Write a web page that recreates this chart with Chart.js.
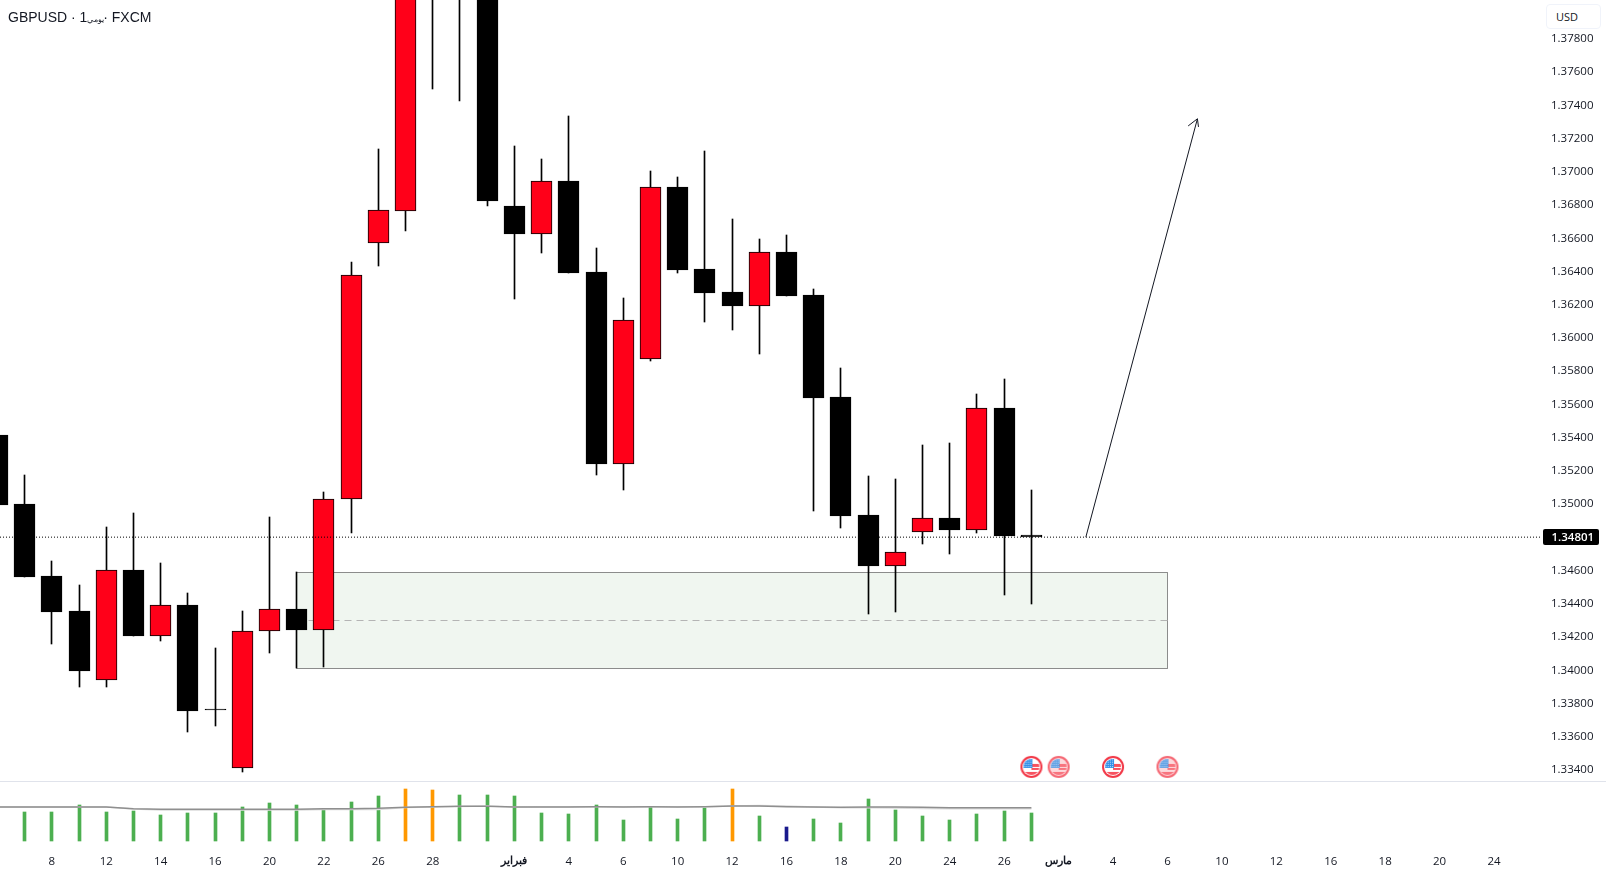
<!DOCTYPE html>
<html>
<head>
<meta charset="utf-8">
<style>
    html, body { margin: 0; padding: 0; background: #fff; overflow: hidden; }
    #wrap { position: relative; width: 1606px; height: 875px; }
    #title { position: absolute; left: 8px; top: 9px; font: 14px "Liberation Sans", sans-serif; color: #131722; white-space: pre; }
    #title span { font-size: 7.5px; margin-right: -5px; }
    #unit { position: absolute; left: 1546px; top: 4px; width: 55px; height: 25px; box-sizing: border-box; border: 1px solid #f0f3fa; border-radius: 4px; font: 11px "Open Sans", sans-serif; color: #131722; line-height: 24px; padding-left: 9px; background: #fff; }
</style>
<script src="https://cdn.jsdelivr.net/npm/chart.js@4/dist/chart.umd.min.js"></script>
</head>
<body>
<div id="wrap">
    <canvas id="chart" width="1606" height="875"></canvas>
    <div id="title">GBPUSD · 1<span>يومي</span> · FXCM</div>
    <div id="unit">USD</div>
</div>
<script>
var opens = [1.35416, 1.35001, 1.34567, 1.34357, 1.33943, 1.34603, 1.34208, 1.34393, 1.33765, 1.33413,
    1.34234, 1.34369, 1.34244, 1.35029, 1.36573, 1.36766, 1.38600, 1.38900, 1.38500, 1.36794,
    1.36627, 1.36945, 1.36397, 1.35243, 1.35875, 1.36908, 1.36415, 1.36277, 1.36192, 1.36517,
    1.36258, 1.35645, 1.34934, 1.34629, 1.34834, 1.34916, 1.34846, 1.35578, 1.34814];
var highs = [1.35520, 1.35175, 1.34658, 1.34513, 1.34862, 1.34946, 1.34646, 1.34465, 1.34134, 1.34357,
    1.34922, 1.34589, 1.35071, 1.36457, 1.37137, 1.38700, 1.38800, 1.39000, 1.38600, 1.37155,
    1.37077, 1.37336, 1.36541, 1.36240, 1.37005, 1.36969, 1.37125, 1.36716, 1.36596, 1.36620,
    1.36295, 1.35819, 1.35169, 1.35151, 1.35356, 1.35368, 1.35663, 1.35753, 1.35085];
var lows = [1.34996, 1.34563, 1.34160, 1.33901, 1.33901, 1.34208, 1.34178, 1.33630, 1.33666, 1.33389,
    1.34106, 1.34013, 1.34021, 1.34828, 1.36435, 1.36645, 1.37498, 1.37428, 1.36796, 1.36234,
    1.36511, 1.36391, 1.35175, 1.35085, 1.35861, 1.36391, 1.36096, 1.36048, 1.35903, 1.36252,
    1.34958, 1.34858, 1.34339, 1.34352, 1.34762, 1.34701, 1.34828, 1.34453, 1.34401];
var closes = [1.34996, 1.34563, 1.34352, 1.33997, 1.34602, 1.34208, 1.34391, 1.33757, 1.33763, 1.34236,
    1.34367, 1.34244, 1.35029, 1.36377, 1.36768, 1.38500, 1.38400, 1.38500, 1.36826, 1.36626,
    1.36945, 1.36391, 1.35241, 1.36108, 1.36908, 1.36409, 1.36271, 1.36192, 1.36517, 1.36252,
    1.35639, 1.34928, 1.34627, 1.34712, 1.34916, 1.34844, 1.35577, 1.34810, 1.34801];

// volume in thousands, kind picks the colour
var volumes = [240, 240, 240, 297, 240, 248, 216, 232, 232, 281,
    314, 297, 265, 322, 371, 428, 419, 379, 379, 371,
    232, 224, 297, 175, 281, 183, 273, 428, 208, 118,
    183, 151, 346, 257, 208, 175, 224, 248, 232];
var volumeKinds = ['n', 'n', 'n', 'n', 'n', 'n', 'n', 'n', 'n', 'n',
    'n', 'n', 'n', 'n', 'n', 'h', 'h', 'n', 'n', 'n',
    'n', 'n', 'n', 'n', 'n', 'n', 'n', 'h', 'n', 'l',
    'n', 'n', 'n', 'n', 'n', 'n', 'n', 'n', 'n'];
var volumeAvg = [281, 281, 281, 281, 281, 267, 262, 262, 262, 262,
    262, 262, 267, 267, 270, 278, 283, 287, 287, 281,
    281, 281, 283, 281, 283, 281, 283, 289, 289, 283,
    281, 278, 281, 281, 278, 275, 275, 275, 275];
var volumeAvgSlow = [281, 281, 281, 281, 281, 265, 257, 257, 257, 257,
    257, 257, 261, 261, 261, 277, 281, 285, 289, 281,
    283, 283, 283, 283, 283, 283, 283, 289, 293, 289,
    281, 275, 275, 273, 269, 267, 267, 267, 267];

var priceTicks = [1.378, 1.376, 1.374, 1.372, 1.370, 1.368, 1.366, 1.364, 1.362, 1.360, 1.358, 1.356,
    1.354, 1.352, 1.350, 1.346, 1.344, 1.342, 1.340, 1.338, 1.336, 1.334];
var volumeTicks = [0, 250];
var timeIndexes = [2, 4, 6, 8, 10, 12, 14, 16, 19, 21, 23, 25, 27, 29, 31, 33, 35, 37, 39, 41, 43, 45, 47, 49, 51, 53, 55];
var timeLabels = ['8', '12', '14', '16', '20', '22', '26', '28', 'فبراير', '4', '6', '10', '12', '16', '18', '20', '24', '26',
    'مارس', '4', '6', '10', '12', '16', '18', '20', '24'];
var monthLabels = ['فبراير', 'مارس'];

var lastPrice = 1.34801;
var zoneStart = 11, zoneEnd = 43;
var zoneTop = 1.3459, zoneMid = 1.3430, zoneBottom = 1.3401;
var arrowIndexes = [40, 44.1], arrowPrices = [1.34801, 1.37319];
var arrowHeadIndexes = [43.76, 44.1, 44.14], arrowHeadPrices = [1.37276, 1.37319, 1.37270];
var eventIndexes = [38, 39, 41, 43], eventFaded = [false, true, false, true];
var eventPrice = 1.33418;
var panePrice = 1.333334;

// both y scales span the whole plot; the volume pane just uses the low end of it
var INDEX_MIN = 0.096, INDEX_MAX = 56.69;
var PRICE_MIN = 1.32930, PRICE_MAX = 1.38034;
var VOLUME_MIN = -53, VOLUME_MAX = 6852;
var COLOR_UP = '#ff0019', COLOR_DOWN = '#000000', INK = '#131722';
var VOLUME_COLOR = { n: '#4caf50', h: '#ff9800', l: '#1a1a8c' };
var AXIS_FONT = '"Open Sans", sans-serif';

function xy(xs, ys) {
    return xs.map(function (x, i) {
        return { x: x, y: ys[i] };
    });
}

function perBar(fn) {
    return opens.map(function (open, i) {
        return fn(open, closes[i], i);
    });
}

function makeFlag(faded) {
    var c = document.createElement('canvas'), g, i, j;
    c.width = 24;
    c.height = 24;
    g = c.getContext('2d');
    g.globalAlpha = faded ? 0.75 : 1;
    g.beginPath();
    g.arc(12, 12, 11, 0, Math.PI * 2);
    g.fillStyle = '#f23645';
    g.fill();
    g.beginPath();
    g.arc(12, 12, 9, 0, Math.PI * 2);
    g.fillStyle = '#fff';
    g.fill();
    g.save();
    g.beginPath();
    g.arc(12, 12, 8, 0, Math.PI * 2);
    g.clip();
    g.fillStyle = '#f7525f';
    g.fillRect(12, 9, 12, 3);
    g.fillRect(12, 13, 12, 2);
    g.fillRect(0, 17, 24, 7);
    g.fillStyle = '#2f8fe8';
    g.fillRect(3, 3, 10, 10);
    g.fillStyle = '#cfe4fa';
    for (i = 0; i < 4; i++) {
        for (j = 0; j < 4; j++) {
            g.fillRect(4.5 + i * 2.2, 4.5 + j * 2.2, 1, 1);
        }
    }
    g.restore();
    return c;
}

// candles and lines land on whole pixels so 1px strokes stay sharp
var snapPlugin = {
    id: 'snap',
    afterDatasetsUpdate: function (chart) {
        chart.data.datasets.forEach(function (ds, i) {
            if (!ds.snap) {
                return;
            }
            chart.getDatasetMeta(i).data.forEach(function (el) {
                el.x = Math.floor(el.x) + 0.5;
                if (ds.type === 'line') {
                    el.y = Math.floor(el.y) + 0.5;
                } else {
                    el.y = Math.round(el.y);
                    el.base = Math.round(el.base);
                    if (el.base - el.y < 1) {
                        el.base = el.y + 1;
                    }
                }
            });
        });
    }
};

var panePlugin = {
    id: 'pane',
    afterDraw: function (chart) {
        var ctx = chart.ctx,
            price = chart.scales.price,
            y = Math.round(price.getPixelForValue(lastPrice));
        // divider between price and volume panes
        ctx.save();
        ctx.fillStyle = '#e0e3eb';
        ctx.fillRect(0, Math.round(price.getPixelForValue(panePrice)), chart.width, 1);
        // last price tag
        ctx.fillStyle = '#000';
        ctx.beginPath();
        ctx.roundRect(chart.chartArea.right + 3, y - 8, 56, 16, 2);
        ctx.fill();
        ctx.fillStyle = '#fff';
        ctx.font = '600 11.5px ' + AXIS_FONT;
        ctx.textBaseline = 'middle';
        ctx.fillText(lastPrice.toFixed(5), chart.chartArea.right + 11.5, y + 0.5);
        ctx.restore();
    }
};

function fixWidth(width) {
    return function (scale) {
        scale.width = width;
        scale.paddingTop = 0;
        scale.paddingBottom = 0;
    };
}

function setTicks(values) {
    return function (scale) {
        scale.ticks = values.map(function (v) {
            return { value: v };
        });
    };
}

var flagOn = makeFlag(false), flagOff = makeFlag(true);

new Chart(document.getElementById('chart').getContext('2d'), {
    type: 'bar',
    plugins: [snapPlugin, panePlugin],
    data: {
        datasets: [
            {
                type: 'line', order: 10, yAxisID: 'price', snap: true,
                data: xy([zoneStart, zoneEnd], [zoneTop, zoneTop]),
                borderWidth: 0, pointRadius: 0,
                backgroundColor: '#f0f6f0',
                fill: { target: { value: zoneBottom } }
            },
            {
                type: 'line', order: 9, yAxisID: 'price', snap: true,
                data: xy([zoneStart, zoneEnd, zoneEnd, zoneStart, zoneStart], [zoneTop, zoneTop, zoneBottom, zoneBottom, zoneTop]),
                borderColor: '#8c8c8c', borderWidth: 1, pointRadius: 0, fill: false
            },
            {
                type: 'line', order: 8, yAxisID: 'price', snap: true,
                data: xy([zoneStart, zoneEnd], [zoneMid, zoneMid]),
                borderColor: '#b4b4b4', borderWidth: 1, borderDash: [7, 5], pointRadius: 0, fill: false
            },
            {
                order: 6, yAxisID: 'price', snap: true, grouped: false,
                data: perBar(function (o, c, i) {
                    return { x: i, y: [lows[i], highs[i]] };
                }),
                barThickness: 1,
                backgroundColor: COLOR_DOWN
            },
            {
                order: 5, yAxisID: 'price', snap: true, grouped: false,
                data: perBar(function (o, c, i) {
                    return { x: i, y: [Math.min(o, c), Math.max(o, c)] };
                }),
                barThickness: 21,
                backgroundColor: perBar(function (o, c) {
                    return c > o ? COLOR_UP : COLOR_DOWN;
                }),
                borderColor: COLOR_DOWN,
                borderWidth: 1,
                borderSkipped: false
            },
            {
                type: 'line', order: 3, yAxisID: 'price',
                data: xy([INDEX_MIN, INDEX_MAX], [lastPrice, lastPrice]),
                borderColor: '#000', borderWidth: 1, borderDash: [1, 2], pointRadius: 0, fill: false
            },
            {
                type: 'line', order: 2, yAxisID: 'price',
                data: xy(arrowIndexes, arrowPrices),
                borderColor: INK, borderWidth: 1, pointRadius: 0, fill: false
            },
            {
                type: 'line', order: 2, yAxisID: 'price',
                data: xy(arrowHeadIndexes, arrowHeadPrices),
                borderColor: INK, borderWidth: 1, pointRadius: 0, fill: false
            },
            {
                type: 'line', order: 1, yAxisID: 'price', showLine: false,
                data: eventIndexes.map(function (idx) {
                    return { x: idx, y: eventPrice };
                }),
                pointStyle: eventFaded.map(function (f) {
                    return f ? flagOff : flagOn;
                }),
                pointRadius: 11
            },
            {
                order: 7, yAxisID: 'volume', snap: true, grouped: false,
                data: perBar(function (o, c, i) {
                    return { x: i, y: volumes[i] };
                }),
                barThickness: 3,
                backgroundColor: volumeKinds.map(function (k) {
                    return VOLUME_COLOR[k];
                })
            },
            {
                type: 'line', order: 4.5, yAxisID: 'volume',
                data: perBar(function (o, c, i) {
                    return { x: i, y: volumeAvgSlow[i] };
                }),
                borderColor: '#dcdcdc', borderWidth: 1.5, pointRadius: 0, fill: false
            },
            {
                type: 'line', order: 4, yAxisID: 'volume',
                data: perBar(function (o, c, i) {
                    return { x: i, y: volumeAvg[i] };
                }),
                borderColor: '#8f8f8f', borderWidth: 1.5, pointRadius: 0, fill: false
            }
        ]
    },
    options: {
        responsive: false,
        animation: false,
        events: [],
        layout: { padding: 0, autoPadding: false },
        plugins: { legend: { display: false }, tooltip: { enabled: false } },
        scales: {
            x: {
                type: 'linear',
                position: 'bottom',
                offset: false,
                min: INDEX_MIN,
                max: INDEX_MAX,
                grid: { display: false, drawTicks: false },
                border: { display: false },
                afterBuildTicks: setTicks(timeIndexes),
                afterFit: function (scale) {
                    scale.height = 27;
                    scale.paddingLeft = 0;
                    scale.paddingRight = 0;
                },
                ticks: {
                    autoSkip: false,
                    maxRotation: 0,
                    padding: 7,
                    color: INK,
                    font: function (ctx) {
                        var label = ctx.tick ? timeLabels[timeIndexes.indexOf(ctx.tick.value)] : '';
                        var isMonth = monthLabels.indexOf(label) >= 0;
                        return { family: AXIS_FONT, size: isMonth ? 10.5 : 11.5, weight: isMonth ? 'bold' : 'normal' };
                    },
                    callback: function (v) {
                        return timeLabels[timeIndexes.indexOf(v)];
                    }
                }
            },
            price: {
                type: 'linear',
                position: 'right',
                weight: 1,
                min: PRICE_MIN,
                max: PRICE_MAX,
                grid: { display: false, drawTicks: false },
                border: { display: false },
                afterBuildTicks: setTicks(priceTicks),
                afterFit: fixWidth(66),
                ticks: {
                    padding: 11,
                    autoSkip: false,
                    color: INK,
                    font: { family: AXIS_FONT, size: 11.5 },
                    callback: function (v) {
                        return v.toFixed(5);
                    }
                }
            },
            volume: {
                type: 'linear',
                position: 'right',
                weight: 0,
                min: VOLUME_MIN,
                max: VOLUME_MAX,
                grid: { display: false, drawTicks: false },
                border: { display: false },
                afterBuildTicks: setTicks(volumeTicks),
                afterFit: fixWidth(0),
                ticks: {
                    padding: 11,
                    autoSkip: false,
                    color: INK,
                    font: { family: AXIS_FONT, size: 11.5 },
                    callback: function (v) {
                        return v === 0 ? '0' : v + ' K';
                    }
                }
            }
        }
    }
});
</script>
</body>
</html>
